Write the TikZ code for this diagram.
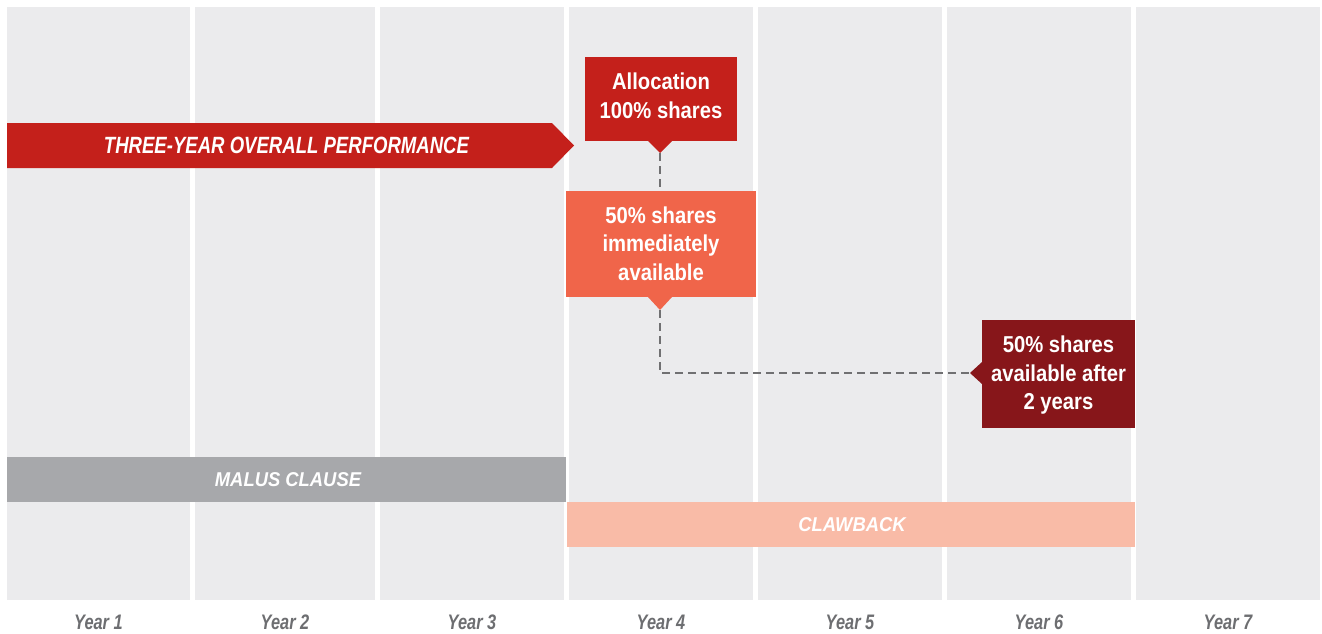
\documentclass[tikz,border=0pt]{standalone}
\usepackage{fontspec}
\setmainfont{Liberation Sans}
\newfontfamily\fA[FakeStretch=0.88]{Liberation Sans}
\newfontfamily\fC[FakeStretch=0.92]{Liberation Sans}
\newfontfamily\fB[FakeStretch=0.79]{Liberation Sans}
\newfontfamily\fD[FakeStretch=0.78]{Liberation Sans}
\definecolor{colbg}{HTML}{EBEBED}
\definecolor{bannerred}{HTML}{C4201B}
\definecolor{orangebox}{HTML}{F0654A}
\definecolor{darkred}{HTML}{87161A}
\definecolor{malusgray}{HTML}{A7A8AB}
\definecolor{clawpink}{HTML}{F9BBA7}
\definecolor{labelgray}{HTML}{6D6E71}
\definecolor{dashgray}{HTML}{707072}
\tikzset{
  boxtext/.style={text=white,font=\fA\bfseries\fontsize{23}{28.5}\selectfont,align=center,inner sep=0pt},
  bandtext/.style={text=white,font=\fC\bfseries\itshape\fontsize{20}{24}\selectfont,inner sep=0pt},
  bannertext/.style={text=white,font=\fB\bfseries\itshape\fontsize{23.5}{28}\selectfont,inner sep=0pt},
  yearlabel/.style={text=labelgray,font=\fD\bfseries\itshape\fontsize{21}{24}\selectfont,inner sep=0pt},
  dashline/.style={draw=dashgray,line width=2.6pt,dash pattern=on 8pt off 5pt}
}
\begin{document}
\begin{tikzpicture}[x=1pt,y=-1pt]
\useasboundingbox (0,0) rectangle (1322,633);
\fill[white] (0,0) rectangle (1322,633);
% columns
\foreach \a/\b in {7/190,195/375,380/564,569/753,758/942,947/1131,1136/1320}
  \fill[colbg] (\a,7) rectangle (\b,600);
% year labels
\foreach \x/\n in {98.5/1,285/2,472/3,661/4,850/5,1039/6,1228/7}
  \node[yearlabel] (year\n) at (\x,622) {Year \n};
% banner
\fill[bannerred] (7,123) -- (552,123) -- (574,145.5) -- (552,168) -- (7,168) -- cycle;
\node[bannertext] (banner) at (286.5,145.5) {THREE-YEAR OVERALL PERFORMANCE};
% malus and clawback
\fill[malusgray] (7,457) rectangle (566,502);
\node[bandtext] (malus) at (288,480) {MALUS CLAUSE};
\fill[clawpink] (567,502) rectangle (1135,547);
\node[bandtext] (claw) at (852,525) {CLAWBACK};
% allocation box
\fill[bannerred] (585,57) rectangle (737,141);
\fill[bannerred] (648,141) -- (660,153) -- (672,141) -- cycle;
\coordinate (p1) at (660,153);
\node[boxtext] (alloc) at (661,96) {Allocation\\100\% shares};
% immediate box
\fill[orangebox] (566,191) rectangle (756,297);
\fill[orangebox] (648,297) -- (660,310) -- (672,297) -- cycle;
\coordinate (b2top) at (660,191);
\coordinate (p2) at (660,310);
\node[boxtext] (immed) at (661,243.5) {50\% shares\\immediately\\available};
% after two years box
\fill[darkred] (982,320) rectangle (1135,428);
\fill[darkred] (982,362) -- (970,373) -- (982,384) -- cycle;
\coordinate (p3) at (970,373);
\node[boxtext] (after) at (1058.5,375.5) {50\% shares\\available after\\2 years};
% dashed connectors
\draw[dashline] (p1) -- (b2top);
\draw[dashline] (p2) -- (660,373) -- (p3);
\end{tikzpicture}
\end{document}
